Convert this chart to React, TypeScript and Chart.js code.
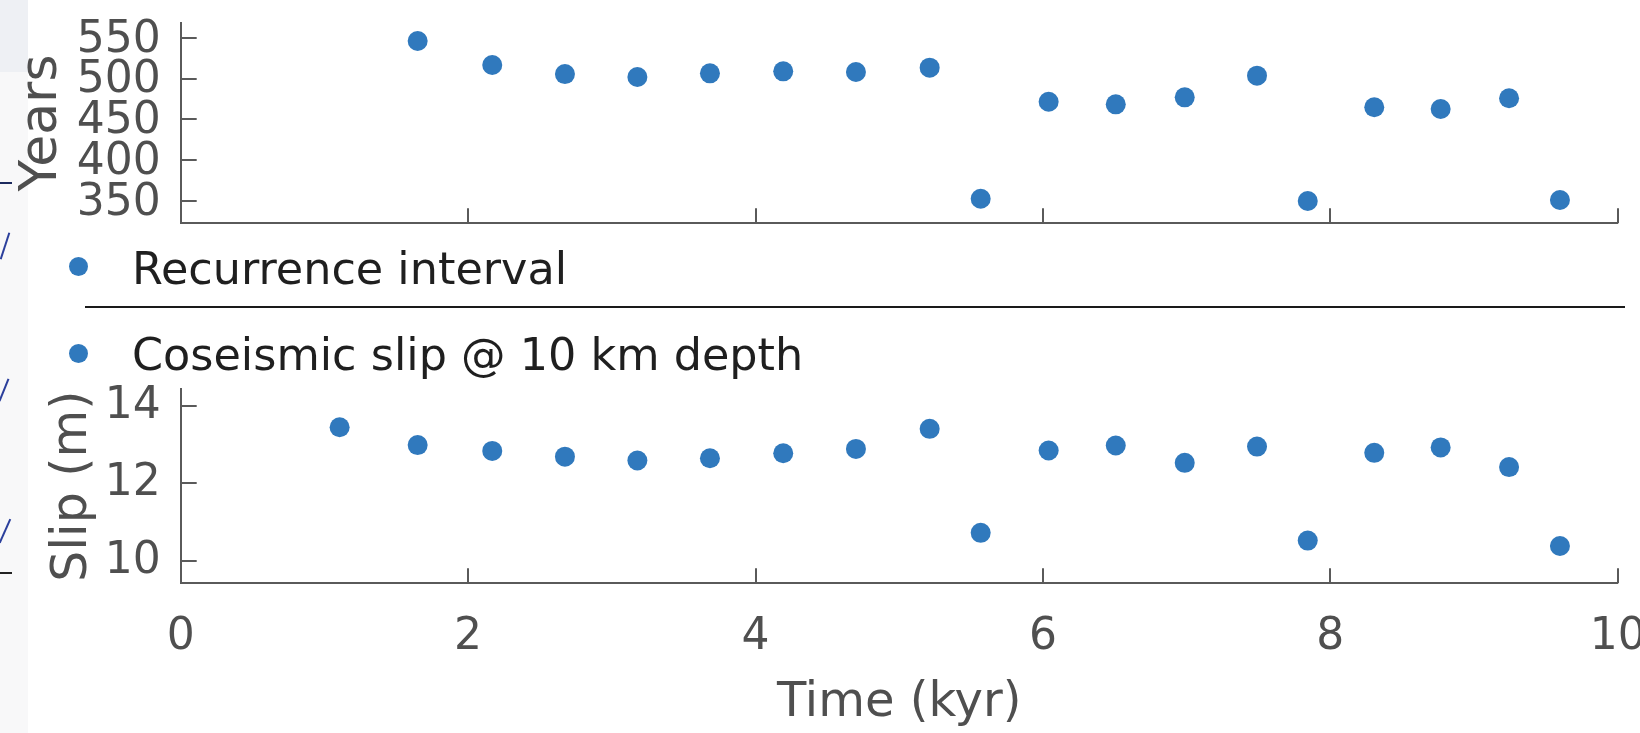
import React, { useEffect, useRef } from "react";
import { Chart, registerables } from "chart.js";

Chart.register(...registerables);

// ---- data ----
const eventTimes = [1.106, 1.649, 2.168, 2.674, 3.178, 3.683, 4.193, 4.699, 5.212, 5.567, 6.04, 6.507, 6.987, 7.49, 7.843, 8.306, 8.768, 9.244, 9.598];
const slipValues = [13.45, 12.99, 12.84, 12.69, 12.59, 12.65, 12.78, 12.89, 13.41, 10.72, 12.85, 12.98, 12.53, 12.95, 10.52, 12.79, 12.93, 12.42, 10.38];
const recurrenceTimes = [1.649, 2.168, 2.674, 3.178, 3.683, 4.193, 4.699, 5.212, 5.567, 6.04, 6.507, 6.987, 7.49, 7.843, 8.306, 8.768, 9.244, 9.598];
const recurrenceYears = [546, 516.6, 505.5, 501.9, 506.4, 508.8, 508, 513.3, 352.8, 471.6, 468.4, 477, 503.5, 350, 464.8, 462.7, 475.8, 351.2];
const xTicks = [0, 2, 4, 6, 8, 10];
const yearTicks = [350, 400, 450, 500, 550];
const slipTicks = [10, 12, 14];
const legendLabels = ["Recurrence interval", "Coseismic slip @ 10 km depth"];
const xTitle = "Time (kyr)";
const topYTitle = "Years";
const bottomYTitle = "Slip (m)";

const W = 1640;
const H = 733;
const AXIS_COLOR = "#5a5a5a";
const TEXT_COLOR = "#4f4f4f";
const DOT_COLOR = "#3079bd";
const FONT = '"DejaVu Sans", sans-serif';

const inwardTicks = {
  id: "inwardTicks",
  afterDraw(chart: any) {
    const { ctx, chartArea } = chart;
    const xs = chart.scales.x;
    const ys = chart.scales.y;
    ctx.save();
    ctx.strokeStyle = AXIS_COLOR;
    ctx.lineWidth = 2;
    ctx.beginPath();
    xs.ticks.forEach((t: any) => {
      const px = Math.round(xs.getPixelForValue(t.value));
      ctx.moveTo(px, chartArea.bottom);
      ctx.lineTo(px, chartArea.bottom - 15);
    });
    ys.ticks.forEach((t: any) => {
      const py = Math.round(ys.getPixelForValue(t.value));
      ctx.moveTo(chartArea.left, py);
      ctx.lineTo(chartArea.left + 16, py);
    });
    ctx.stroke();
    ctx.restore();
  },
};

function makeConfig(opts: {
  xs: number[];
  ys: number[];
  yMin: number;
  yMax: number;
  yTicks: number[];
  yLabelOffset: number;
  yTitle: string;
  yTitleSize: number;
  yTitlePad: number;
  top: number;
  bottomAxisHeight: number;
  bottomPad: number;
  showX: boolean;
}) {
  return {
    type: "scatter" as const,
    data: {
      datasets: [
        {
          data: opts.xs.map((x, i) => ({ x, y: opts.ys[i] })),
          backgroundColor: DOT_COLOR,
          borderWidth: 0,
          pointRadius: 10,
          pointHoverRadius: 10,
          pointBorderWidth: 0,
          clip: false as any,
        },
      ],
    },
    options: {
      animation: false as const,
      responsive: false,
      events: [] as any,
      layout: {
        autoPadding: false,
        padding: { left: 0, top: opts.top, right: 22.3, bottom: opts.bottomPad },
      },
      plugins: { legend: { display: false }, tooltip: { enabled: false } },
      scales: {
        x: {
          type: "linear" as const,
          min: 0,
          max: 10,
          afterBuildTicks: (s: any) => {
            s.ticks = xTicks.map((v) => ({ value: v }));
          },
          afterFit: (s: any) => {
            s.height = opts.bottomAxisHeight;
            s.paddingLeft = 0;
            s.paddingRight = 0;
          },
          grid: { display: false, drawTicks: false },
          border: { display: true, color: AXIS_COLOR, width: 2 },
          ticks: {
            display: opts.showX,
            autoSkip: false,
            maxRotation: 0,
            padding: 28,
            color: TEXT_COLOR,
            font: { family: FONT, size: 44 },
          },
          title: {
            display: opts.showX,
            text: xTitle,
            color: TEXT_COLOR,
            font: { family: FONT, size: 48 },
            padding: { top: 0, bottom: 1 },
          },
        },
        y: {
          type: "linear" as const,
          min: opts.yMin,
          max: opts.yMax,
          afterBuildTicks: (s: any) => {
            s.ticks = opts.yTicks.map((v) => ({ value: v }));
          },
          afterFit: (s: any) => {
            s.width = 180.7;
            s.paddingTop = 0;
            s.paddingBottom = 0;
          },
          grid: { display: false, drawTicks: false },
          border: { display: true, color: AXIS_COLOR, width: 2 },
          ticks: {
            autoSkip: false,
            padding: 20,
            labelOffset: opts.yLabelOffset,
            color: TEXT_COLOR,
            font: { family: FONT, size: 44 },
          },
          title: {
            display: true,
            text: opts.yTitle,
            color: TEXT_COLOR,
            font: { family: FONT, size: opts.yTitleSize },
            padding: { top: opts.yTitlePad, bottom: 0 },
          },
        },
      },
    },
    plugins: [inwardTicks],
  };
}

export default function App() {
  const topRef = useRef<HTMLCanvasElement>(null);
  const bottomRef = useRef<HTMLCanvasElement>(null);

  useEffect(() => {
    const top = new Chart(
      topRef.current as HTMLCanvasElement,
      makeConfig({
        xs: recurrenceTimes,
        ys: recurrenceYears,
        yMin: 322.7,
        yMax: 568.4,
        yTicks: yearTicks,
        yLabelOffset: 2.5,
        yTitle: topYTitle,
        yTitleSize: 52,
        yTitlePad: 11,
        top: 22.7,
        bottomAxisHeight: 0,
        bottomPad: H - 223.3,
        showX: false,
      }) as any
    );
    const bottom = new Chart(
      bottomRef.current as HTMLCanvasElement,
      makeConfig({
        xs: eventTimes,
        ys: slipValues,
        yMin: 9.416,
        yMax: 14.44,
        yTicks: slipTicks,
        yLabelOffset: 0.5,
        yTitle: bottomYTitle,
        yTitleSize: 49,
        yTitlePad: 43.5,
        top: 389,
        bottomAxisHeight: H - 583.3,
        bottomPad: 0,
        showX: true,
      }) as any
    );
    return () => {
      top.destroy();
      bottom.destroy();
    };
  }, []);

  const canvasStyle: React.CSSProperties = {
    position: "absolute",
    left: 0,
    top: 0,
    width: W,
    height: H,
  };
  const dot = (cx: number, cy: number): React.CSSProperties => ({
    position: "absolute",
    left: cx - 9.5,
    top: cy - 9.5,
    width: 19,
    height: 19,
    borderRadius: "50%",
    background: DOT_COLOR,
  });
  const legendText = (topPx: number): React.CSSProperties => ({
    position: "absolute",
    left: 132,
    top: topPx,
    fontFamily: FONT,
    fontSize: 44.5,
    lineHeight: "44.5px",
    color: "#1f1f1f",
    whiteSpace: "nowrap",
  });
  const stroke = (left: number, top: number, h: number, deg: number): React.CSSProperties => ({
    position: "absolute",
    left,
    top,
    width: 2,
    height: h,
    background: "#2b3f9c",
    transform: `rotate(${deg}deg)`,
  });

  return (
    <div
      style={{
        position: "absolute",
        left: 0,
        top: 0,
        width: W,
        height: H,
        background: "#ffffff",
        overflow: "hidden",
      }}
    >
      {/* faint remnants at the left edge of the cropped picture */}
      <div style={{ position: "absolute", left: 0, top: 0, width: 28, height: H, background: "#f8f8f9" }} />
      <div style={{ position: "absolute", left: 0, top: 0, width: 28, height: 72, background: "#eef0f4" }} />
      <div style={{ position: "absolute", left: 0, top: 182, width: 12, height: 2, background: "#1c2a5e" }} />
      <div style={{ position: "absolute", left: 0, top: 572, width: 12, height: 2, background: "#222" }} />
      <div style={stroke(4, 232, 28, 18)} />
      <div style={stroke(3, 378, 24, 22)} />
      <div style={stroke(4, 518, 26, 24)} />
      <canvas ref={topRef} width={W} height={H} style={canvasStyle} />
      <canvas ref={bottomRef} width={W} height={H} style={canvasStyle} />
      <div style={dot(78.5, 266.5)} />
      <div style={legendText(247.4)}>{legendLabels[0]}</div>
      <div style={{ position: "absolute", left: 85, top: 306, width: 1540, height: 2, background: "#1a1a1a" }} />
      <div style={dot(78.5, 353)} />
      <div style={legendText(332.7)}>{legendLabels[1]}</div>
    </div>
  );
}
